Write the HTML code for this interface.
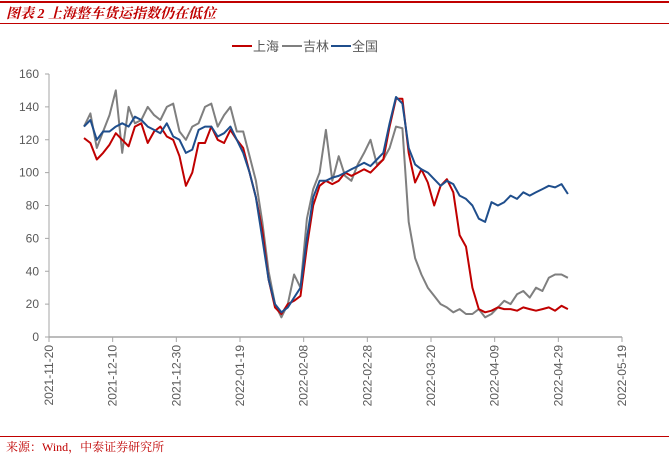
<!DOCTYPE html>
<html><head><meta charset="utf-8"><style>
body{margin:0;background:#fff;width:669px;height:457px;overflow:hidden;font-family:"Liberation Sans","Noto Sans CJK SC",sans-serif}
</style></head><body>
<svg width="669" height="457" xmlns="http://www.w3.org/2000/svg">
<rect x="0" y="1" width="669" height="2" fill="#c00000"/>
<text x="6" y="18" font-size="14" font-weight="bold" font-style="italic" fill="#c00000" font-family="'Liberation Serif','Noto Serif CJK SC',serif">图表 2  上海整车货运指数仍在低位</text>
<rect x="0" y="23" width="669" height="1" fill="#c00000"/>
<g id="legend" font-size="13" fill="#595959">
<g><line x1="232" y1="46" x2="252" y2="46" stroke="#c00000" stroke-width="2"/><text x="253" y="51">上海</text></g>
<g><line x1="282" y1="46" x2="302" y2="46" stroke="#7f7f7f" stroke-width="2"/><text x="303" y="51">吉林</text></g>
<g><line x1="331" y1="46" x2="351" y2="46" stroke="#1f4e8c" stroke-width="2"/><text x="352" y="51">全国</text></g>
</g>
<g id="axes"></g>
<g id="series"></g>
<rect x="0" y="436" width="669" height="1" fill="#c00000"/>
<text x="6" y="451" font-size="12" fill="#c00000" font-family="'Liberation Serif','Noto Serif CJK SC',serif">来源：Wind，中泰证券研究所</text>
</svg>
<script>
const yTicks=[0,20,40,60,80,100,120,140,160];
const xTickLabels=["2021-11-20","2021-12-10","2021-12-30","2022-01-19","2022-02-08","2022-02-28","2022-03-20","2022-04-09","2022-04-29","2022-05-19"];
const startDay=11, stepDays=2;
const shanghai=[121,118,108,112,117,124,120,116,128,130,118,125,128,122,120,110,92,100,118,118,128,120,118,126,120,115,100,85,65,35,18,14,20,22,25,55,80,92,95,93,95,100,98,100,102,100,104,108,128,145,145,112,94,102,94,80,92,96,88,62,55,30,17,15,16,18,17,17,16,18,17,16,17,18,16,19,17];
const jilin=[128,136,115,125,135,150,112,140,130,132,140,135,132,140,142,125,120,128,130,140,142,128,135,140,125,125,110,95,70,40,20,12,20,38,30,72,90,100,126,95,110,98,95,105,112,120,105,108,115,128,127,70,48,38,30,25,20,18,15,17,14,14,17,12,14,18,22,20,26,28,24,30,28,36,38,38,36];
const national=[128,132,120,125,125,128,130,128,134,132,128,126,124,130,122,120,112,114,126,128,128,122,124,128,120,112,100,85,60,35,20,15,18,24,30,60,85,95,95,97,98,100,102,104,106,104,108,112,130,146,142,115,105,102,100,96,92,95,93,86,84,80,72,70,82,80,82,86,84,88,86,88,90,92,91,93,87];
const X0=49,X1=622,Y0=337,Y1=74,DMAX=180,VMAX=160;
const xs=d=>X0+(X1-X0)*d/DMAX, ys=v=>Y0-(Y0-Y1)*v/VMAX;
const NS="http://www.w3.org/2000/svg";
const mk=(t,a,p)=>{const e=document.createElementNS(NS,t);for(const k in a)e.setAttribute(k,a[k]);p.appendChild(e);return e;};
const ax=document.getElementById('axes');
let yl=mk('line',{x1:X0,y1:Y1,x2:X0,y2:Y0,stroke:'#a6a6a6'},ax);


yTicks.forEach(v=>{
 const t=mk('line',{x1:X0-4,x2:X0,y1:ys(v),y2:ys(v),stroke:'#a6a6a6'},ax);
 
 
 const l=mk('text',{x:X0-10,y:ys(v)+4,'text-anchor':'end','font-size':12,fill:'#595959'},ax);
 l.textContent=v;
 
 
});
let xl=mk('line',{x1:X0,y1:Y0,x2:X1,y2:Y0,stroke:'#a6a6a6','stroke-width':1.5},ax);


xTickLabels.forEach((s,i)=>{
 const x=xs(i*20);
 const t=mk('line',{x1:x,x2:x,y1:Y0,y2:Y0+5,stroke:'#a6a6a6'},ax);
 
 
 const l=mk('text',{x:0,y:0,'text-anchor':'end','font-size':12,fill:'#595959',transform:`translate(${x+4},${Y0+8}) rotate(-90)`},ax);
 l.textContent=s;
 
 
});
const sg=document.getElementById('series');
[[jilin,'#7f7f7f','line-jilin'],[shanghai,'#c00000','line-shanghai'],[national,'#1f4e8c','line-national']].forEach(([arr,c,n])=>{
 const pts=arr.map((v,i)=>xs(startDay+i*stepDays).toFixed(1)+','+ys(v).toFixed(1)).join(' ');
 const p=mk('polyline',{points:pts,fill:'none',stroke:c,'stroke-width':2,'stroke-linejoin':'round'},sg);
 
 
});
</script>
</body></html>
